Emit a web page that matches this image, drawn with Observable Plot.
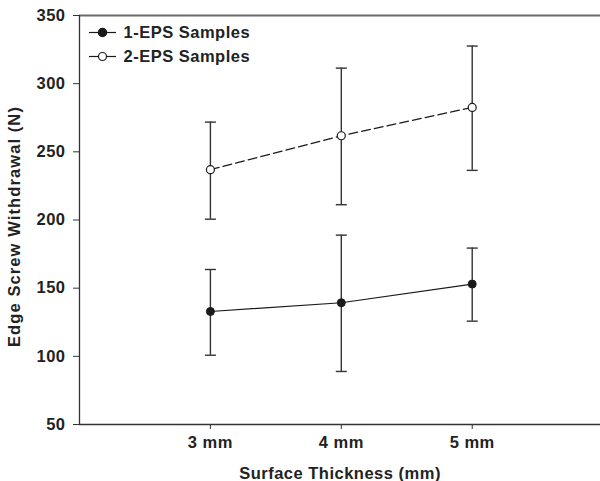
<!DOCTYPE html>
<html>
<head>
<meta charset="utf-8">
<script src="https://cdn.jsdelivr.net/npm/d3@7"></script>
<script src="https://cdn.jsdelivr.net/npm/@observablehq/plot@0.6"></script>
<style>
  html, body { margin: 0; padding: 0; background: #fff; }
  svg { font-family: "Liberation Sans", Arial, sans-serif; }
  svg text { letter-spacing: 0.5px; }
</style>
</head>
<body>
<div id="chart"></div>
<script>
const thickness = [3, 4, 5];
const seriesNames = ["1-EPS Samples", "2-EPS Samples"];
const eps1Mean = [132.9, 139.3, 153.0];
const eps1Low  = [100.8, 88.9, 125.8];
const eps1High = [163.7, 188.9, 179.4];
const eps2Mean = [236.9, 261.8, 282.6];
const eps2Low  = [200.6, 211.2, 236.4];
const eps2High = [271.8, 311.4, 327.6];
const yTicks = [50, 100, 150, 200, 250, 300, 350];
const xLabel = "Surface Thickness (mm)";
const yLabel = "Edge Screw Withdrawal (N)";

const rows1 = thickness.map((t, i) => ({t, mean: eps1Mean[i], lo: eps1Low[i], hi: eps1High[i]}));
const rows2 = thickness.map((t, i) => ({t, mean: eps2Mean[i], lo: eps2Low[i], hi: eps2High[i]}));

const hline = { draw(ctx, size) { const r = Math.sqrt(size / Math.PI); ctx.moveTo(-r, 0); ctx.lineTo(r, 0); } };

const ink = "#1a1a1a";
const txt = "#222";
const fs = 16.5;
const xDomain = [2, 5.98];
const yDomain = [50, 350];

const errMarks = (rows) => [
  Plot.ruleX(rows, {x: "t", y1: "lo", y2: "hi", stroke: "#333", strokeWidth: 1.4}),
  Plot.dot(rows, {x: "t", y: "lo", symbol: hline, r: 5.5, stroke: "#333", strokeWidth: 1.4}),
  Plot.dot(rows, {x: "t", y: "hi", symbol: hline, r: 5.5, stroke: "#333", strokeWidth: 1.4})
];

const chart = Plot.plot({
  width: 600,
  height: 481,
  marginLeft: 79,
  marginRight: 0,
  marginTop: 15,
  marginBottom: 57,
  style: {fontFamily: "Liberation Sans, Arial, sans-serif", fontSize: fs + "px", fontWeight: "bold", color: txt, background: "#fff"},
  x: {domain: xDomain, ticks: thickness, tickFormat: d => `${d} mm`},
  y: {domain: yDomain, ticks: yTicks},
  marks: [
    Plot.axisX({ticks: thickness, tickFormat: d => `${d} mm`, tickSize: 5, tickPadding: 7, stroke: "#333", label: null, fontWeight: "bold", fill: txt}),
    Plot.axisY({ticks: yTicks, tickSize: 6, tickPadding: 8, stroke: "#333", label: null, fontWeight: "bold", fill: txt}),
    Plot.ruleY([yDomain[1]], {stroke: "#6a6a6a", strokeWidth: 2}),
    Plot.ruleX([xDomain[0]], {stroke: "#333", strokeWidth: 1.3}),
    Plot.ruleY([yDomain[0]], {stroke: "#333", strokeWidth: 1.3}),
    ...errMarks(rows2),
    ...errMarks(rows1),
    Plot.line(rows2, {x: "t", y: "mean", stroke: ink, strokeWidth: 1.2, strokeDasharray: "9,4"}),
    Plot.line(rows1, {x: "t", y: "mean", stroke: ink, strokeWidth: 1.2}),
    Plot.dot(rows2, {x: "t", y: "mean", r: 4, fill: "#fff", stroke: ink, strokeWidth: 1.2}),
    Plot.dot(rows1, {x: "t", y: "mean", r: 4, fill: ink, stroke: ink, strokeWidth: 1}),
    // legend
    Plot.dot([seriesNames[0]], {frameAnchor: "top-left", dx: 23, dy: 17, symbol: hline, r: 13.5, stroke: ink, strokeWidth: 1.2}),
    Plot.dot([seriesNames[0]], {frameAnchor: "top-left", dx: 23, dy: 17, r: 4, fill: ink, stroke: ink}),
    Plot.text([seriesNames[0]], {frameAnchor: "top-left", dx: 44, dy: 17, text: d => d, textAnchor: "start", lineAnchor: "middle", fontSize: fs, fontWeight: "bold", fill: txt}),
    Plot.dot([seriesNames[1]], {frameAnchor: "top-left", dx: 23, dy: 41, symbol: hline, r: 13.5, stroke: ink, strokeWidth: 1.2}),
    Plot.dot([seriesNames[1]], {frameAnchor: "top-left", dx: 23, dy: 41, r: 4, fill: "#fff", stroke: ink, strokeWidth: 1.2}),
    Plot.text([seriesNames[1]], {frameAnchor: "top-left", dx: 44, dy: 41, text: d => d, textAnchor: "start", lineAnchor: "middle", fontSize: fs, fontWeight: "bold", fill: txt}),
    // axis titles
    Plot.text([xLabel], {frameAnchor: "bottom", dy: 49, text: d => d, textAnchor: "middle", lineAnchor: "middle", fontSize: fs, fontWeight: "bold", fill: txt}),
    Plot.text([yLabel], {frameAnchor: "left", dx: -65, dy: 6.5, rotate: -90, text: d => d, textAnchor: "middle", lineAnchor: "middle", fontSize: fs, fontWeight: "bold", fill: txt})
  ]
});
d3.select(chart).selectAll("text").filter(function() { return this.textContent === yLabel; }).style("letter-spacing", "1.1px");
document.getElementById("chart").appendChild(chart);
</script>
</body>
</html>
